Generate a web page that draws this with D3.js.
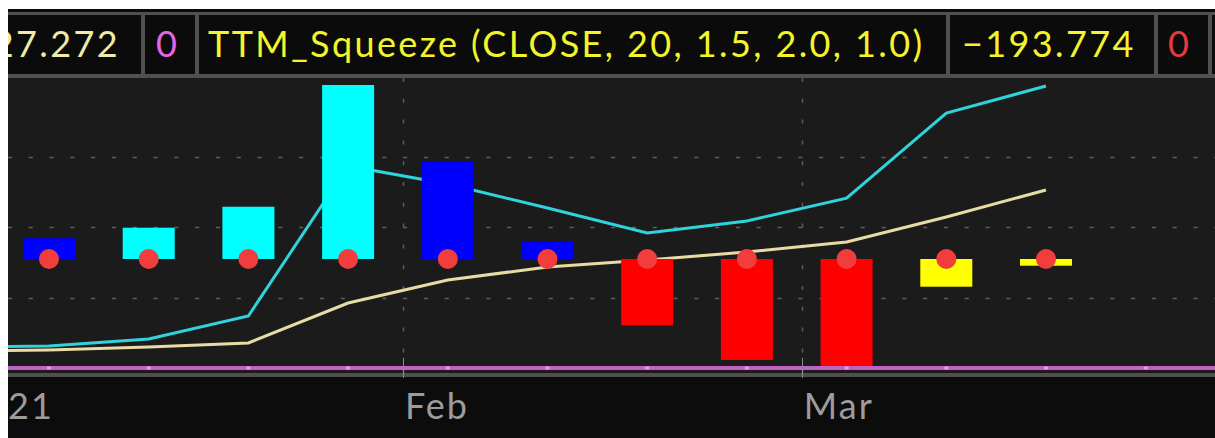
<!DOCTYPE html>
<html>
<head>
<meta charset="utf-8">
<script src="https://cdn.jsdelivr.net/npm/d3@7"></script>
<style>
  html, body { margin: 0; padding: 0; background: #fff; }
  svg { display: block; }
  text { font-family: Lato, "Open Sans", sans-serif; }
</style>
</head>
<body>
<div id="chart"></div>
<script>
// weekly bars (Thursdays)
var weeks = ["2021-01-07", "2021-01-14", "2021-01-21", "2021-01-28", "2021-02-04", "2021-02-11",
  "2021-02-18", "2021-02-25", "2021-03-04", "2021-03-11", "2021-03-18"];
// squeeze histogram
var histValues = [600, 905, 1512, 5032, 2814, 500, -1918, -2921, -3094, -801, -193.774];
var histTrend = ["down", "up", "up", "up", "down", "down", "down", "down", "down", "up", "up"];
// squeeze dots (true = squeeze on)
var squeezeOn = [true, true, true, true, true, true, true, true, true, true, true];

// the two line studies start one week earlier (off the left edge)
var lineWeeks = ["2020-12-31"].concat(weeks);
var cyanValues = [2.98, 3.12, 4.11, 7.38, 28.65, 26.1, 22.7, 19.15, 20.85, 24.1, 36.17, 40.0];
var creamValues = [2.41, 2.55, 2.98, 3.55, 9.22, 12.48, 14.33, 15.32, 16.45, 17.87, 21.42, 25.25];

// axis / grid
var monthTicks = ["2021-02-01", "2021-03-01"];
var monthLabels = ["Feb", "Mar"];
var yearLabel = "21";
var gridValues = [10, 20, 30];

// header strip
var headerTexts = ["27.272", "0", "TTM_Squeeze (CLOSE, 20, 1.5, 2.0, 1.0)", "\u2212193.774", "0"];

var svgWidth = 1215;
var svgHeight = 438;
var leftEdge = 8;
var topEdge = 9;
var plotTop = 78;
var plotBottom = 373;

var parse = d3.timeParse("%Y-%m-%d");

var svg = d3.select("#chart")
  .append("svg")
  .attr("width", svgWidth)
  .attr("height", svgHeight);

svg.append("rect")
  .attr("width", svgWidth)
  .attr("height", svgHeight)
  .attr("fill", "#fff");

svg.append("clipPath").attr("id", "plotClip")
  .append("rect")
  .attr("x", leftEdge).attr("y", plotTop)
  .attr("width", svgWidth - leftEdge).attr("height", plotBottom - plotTop);

svg.append("clipPath").attr("id", "allClip")
  .append("rect")
  .attr("x", leftEdge).attr("y", topEdge)
  .attr("width", svgWidth - leftEdge).attr("height", svgHeight - topEdge);

// scales
var xScale = d3.scaleTime()
  .domain([parse("2021-01-07"), parse("2021-03-18")])
  .range([49, 1046]);

var yHist = d3.scaleLinear()
  .domain([0, 5032])
  .range([259, 85]);

var yLine = d3.scaleLinear()
  .domain([0, 30])
  .range([368, 156.5]);

// ---- header ----
var header = svg.append("g");
header.append("rect")
  .attr("x", leftEdge).attr("y", topEdge)
  .attr("width", svgWidth - leftEdge).attr("height", plotTop - topEdge)
  .attr("fill", "#0b0b0b");
header.append("rect")
  .attr("x", leftEdge).attr("y", 12)
  .attr("width", svgWidth - leftEdge).attr("height", 3)
  .attr("fill", "#505050");
header.append("rect")
  .attr("x", leftEdge).attr("y", 74)
  .attr("width", svgWidth - leftEdge).attr("height", 4)
  .attr("fill", "#505050");

var separators = [141, 195, 946, 1154, 1208];
header.selectAll(".sep")
  .data(separators)
  .enter()
  .append("rect")
  .attr("x", d => d)
  .attr("y", 12)
  .attr("width", 4)
  .attr("height", 66)
  .attr("fill", "#505050");

var headerColors = ["#efeca8", "#e466e4", "#f4f42c", "#f4f42c", "#e8393f"];
var headerX = [120, 156, 208, 962, 1168];
var headerAnchor = ["end", "start", "start", "start", "start"];

header.append("g")
  .attr("clip-path", "url(#allClip)")
  .selectAll("text")
  .data(headerTexts)
  .enter()
  .append("text")
  .attr("x", (d, i) => headerX[i])
  .attr("y", 57)
  .attr("text-anchor", (d, i) => headerAnchor[i])
  .attr("fill", (d, i) => headerColors[i])
  .attr("font-size", "36px")
  .attr("letter-spacing", "2.4px")
  .text(d => d);

// ---- plot area ----
svg.append("rect")
  .attr("x", leftEdge).attr("y", plotTop)
  .attr("width", svgWidth - leftEdge).attr("height", plotBottom - plotTop)
  .attr("fill", "#1b1b1b");

// below axis
svg.append("rect")
  .attr("x", leftEdge).attr("y", plotBottom)
  .attr("width", svgWidth - leftEdge).attr("height", svgHeight - plotBottom)
  .attr("fill", "#0c0c0c");

var plot = svg.append("g").attr("clip-path", "url(#plotClip)");

// dashed grid
plot.selectAll(".hgrid")
  .data(gridValues)
  .enter()
  .append("line")
  .attr("x1", leftEdge).attr("x2", svgWidth)
  .attr("y1", d => Math.round(yLine(d)) + 0.5)
  .attr("y2", d => Math.round(yLine(d)) + 0.5)
  .attr("stroke", "#5e5e5e")
  .attr("stroke-width", 1.5)
  .attr("stroke-dasharray", "4,16.8");

plot.selectAll(".vgrid")
  .data(monthTicks)
  .enter()
  .append("line")
  .attr("x1", d => Math.round(xScale(parse(d))) - 1.5)
  .attr("x2", d => Math.round(xScale(parse(d))) - 1.5)
  .attr("y1", plotTop).attr("y2", plotBottom)
  .attr("stroke", "#5e5e5e")
  .attr("stroke-width", 1.5)
  .attr("stroke-dasharray", "4,16.8");

// line studies
var cyanData = lineWeeks.map((d, i) => ({ date: parse(d), value: cyanValues[i] }));
var creamData = lineWeeks.map((d, i) => ({ date: parse(d), value: creamValues[i] }));

var lineGen = d3.line()
  .x(d => xScale(d.date))
  .y(d => yLine(d.value));

plot.append("path")
  .datum(creamData)
  .attr("d", lineGen)
  .attr("fill", "none")
  .attr("stroke", "#e8dca4")
  .attr("stroke-width", 3);

plot.append("path")
  .datum(cyanData)
  .attr("d", lineGen)
  .attr("fill", "none")
  .attr("stroke", "#2fd3dc")
  .attr("stroke-width", 3);

// histogram
var histData = weeks.map((d, i) => ({ date: parse(d), value: histValues[i], trend: histTrend[i], on: squeezeOn[i] }));

function barColor(d) {
  if (d.value >= 0) return d.trend === "up" ? "#00ffff" : "#0000ff";
  return d.trend === "down" ? "#ff0000" : "#ffff00";
}

var barWidth = 52;
plot.selectAll(".bar")
  .data(histData)
  .enter()
  .append("rect")
  .attr("x", d => xScale(d.date) - barWidth / 2)
  .attr("y", d => Math.min(yHist(d.value), yHist(0)))
  .attr("width", barWidth)
  .attr("height", d => Math.abs(yHist(d.value) - yHist(0)))
  .attr("fill", barColor);

// zero line (purple) with weekly marks
plot.append("line")
  .attr("x1", leftEdge).attr("x2", svgWidth)
  .attr("y1", yLine(0)).attr("y2", yLine(0))
  .attr("stroke", "#c35fc6")
  .attr("stroke-width", 4);

var weekMarks = d3.timeThursday.range(parse("2020-12-30"), parse("2021-04-02"));
plot.selectAll(".wk")
  .data(weekMarks)
  .enter()
  .append("rect")
  .attr("x", d => xScale(d) - 2)
  .attr("y", yLine(0) - 1.5)
  .attr("width", 4)
  .attr("height", 3)
  .attr("fill", "#e59be6");

// squeeze dots
plot.selectAll(".dot")
  .data(histData)
  .enter()
  .append("circle")
  .attr("cx", d => xScale(d.date))
  .attr("cy", yHist(0))
  .attr("r", 10)
  .attr("fill", d => d.on ? "#f23d3d" : "#3dd23d");

// x axis
svg.append("rect")
  .attr("x", leftEdge).attr("y", plotBottom)
  .attr("width", svgWidth - leftEdge).attr("height", 4)
  .attr("fill", "#4f4f4f");

var axisG = svg.append("g");

axisG.selectAll(".tick")
  .data(monthTicks)
  .enter()
  .append("line")
  .attr("x1", d => Math.round(xScale(parse(d))) - 1.5)
  .attr("x2", d => Math.round(xScale(parse(d))) - 1.5)
  .attr("y1", 358).attr("y2", 378)
  .attr("stroke", "#8a8a8a")
  .attr("stroke-width", 1);

axisG.selectAll(".mlabel")
  .data(monthTicks)
  .enter()
  .append("text")
  .attr("x", d => xScale(parse(d)) + 0)
  .attr("y", 419)
  .attr("fill", "#9c9c9c")
  .attr("font-size", "36px")
  .attr("letter-spacing", "2px")
  .text((d, i) => monthLabels[i]);

// year label tail at the left edge
axisG.append("text")
  .attr("x", leftEdge)
  .attr("y", 419)
  .attr("fill", "#9c9c9c")
  .attr("font-size", "36px")
  .attr("letter-spacing", "2px")
  .text(yearLabel);
</script>
</body>
</html>
